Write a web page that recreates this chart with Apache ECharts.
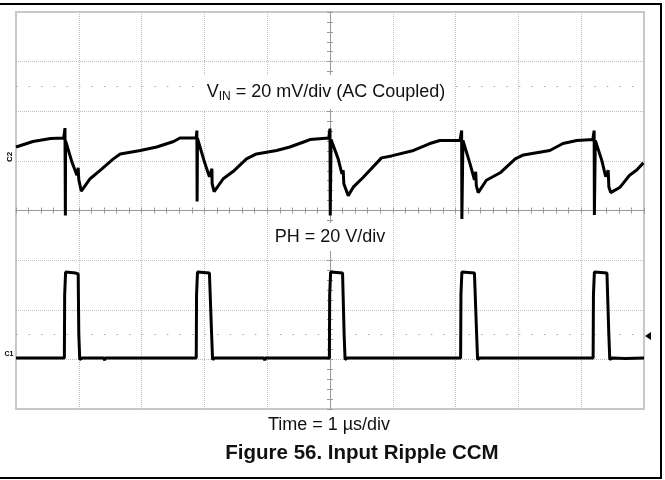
<!DOCTYPE html>
<html>
<head>
<meta charset="utf-8">
<script src="https://cdn.jsdelivr.net/npm/echarts@6/dist/echarts.min.js"></script>
<style>
html,body{margin:0;padding:0;background:#fff;}
#chart{width:665px;height:480px;}
</style>
</head>
<body>
<div id="chart"></div>
<script>
// Time in µs relative to trigger (center), vertical in divisions
var timeRange = [-5, 5];
var divRange = [-4, 4];

// Channel 2: VIN ripple (20 mV/div, AC coupled) - [time µs, divisions]
var vinRipple = [
  [-5.00,1.28],[-4.73,1.39],[-4.45,1.45],[-4.24,1.46],[-4.22,1.66],[-4.214,-0.10],[-4.21,1.40],[-4.19,1.41],
  [-4.11,0.98],[-4.03,0.71],[-4.01,0.86],[-4.00,0.62],[-3.96,0.39],[-3.82,0.64],[-3.66,0.81],[-3.45,1.04],
  [-3.34,1.14],[-3.02,1.21],[-2.76,1.28],[-2.49,1.39],[-2.39,1.46],[-2.13,1.46],
  [-2.12,1.61],[-2.116,0.18],[-2.11,1.45],[-1.99,0.94],[-1.92,0.68],[-1.88,0.84],[-1.877,0.54],[-1.845,0.38],
  [-1.70,0.64],[-1.54,0.79],[-1.33,1.04],[-1.17,1.14],[-0.85,1.21],[-0.64,1.28],[-0.42,1.38],[-0.32,1.43],[-0.02,1.46],
  [0.00,1.65],[0.004,-0.10],[0.017,1.43],[0.13,1.04],[0.19,0.74],[0.21,0.81],[0.22,0.54],[0.29,0.30],[0.37,0.47],
  [0.53,0.67],[0.82,1.06],[0.98,1.10],[1.33,1.21],[1.59,1.35],[1.75,1.41],[2.07,1.41],
  [2.096,1.61],[2.10,-0.17],[2.117,1.41],[2.23,0.94],[2.30,0.62],[2.32,0.78],[2.33,0.50],[2.36,0.36],[2.49,0.61],
  [2.71,0.76],[2.95,1.04],[3.08,1.12],[3.50,1.21],[3.71,1.35],[3.93,1.41],[4.185,1.43],
  [4.206,1.61],[4.21,-0.09],[4.225,1.41],[4.33,1.00],[4.39,0.68],[4.43,0.81],[4.44,0.48],[4.47,0.36],[4.62,0.47],
  [4.77,0.71],[4.88,0.81],[4.99,0.96]
];

// Channel 1: PH switch node (20 V/div) - [time µs, divisions]
var phNode = [
  [-5.00,-2.97],[-4.60,-2.97],[-4.59,-3.01],[-4.58,-2.97],[-4.23,-2.97],[-4.225,-1.70],[-4.21,-1.24],[-4.18,-1.22],
  [-4.05,-1.26],[-4.01,-1.28],[-4.00,-2.50],[-3.985,-3.00],[-3.96,-3.03],[-3.94,-2.97],[-3.60,-2.97],[-3.59,-3.02],
  [-3.58,-2.97],[-2.13,-2.97],
  [-2.125,-1.70],[-2.11,-1.24],[-2.08,-1.22],[-1.92,-1.26],[-1.895,-1.28],[-1.885,-2.50],[-1.87,-3.00],[-1.85,-3.03],
  [-1.83,-2.97],[-1.05,-2.97],[-1.04,-3.02],[-1.03,-2.97],[-0.01,-2.97],
  [-0.005,-1.70],[0.01,-1.24],[0.04,-1.22],[0.20,-1.26],[0.215,-1.28],[0.225,-2.50],[0.24,-3.00],[0.26,-3.03],
  [0.28,-2.97],[2.08,-2.97],
  [2.085,-1.70],[2.10,-1.24],[2.13,-1.22],[2.30,-1.26],[2.32,-1.28],[2.335,-2.50],[2.35,-3.00],[2.37,-3.03],
  [2.39,-2.97],[4.19,-2.97],
  [4.195,-1.70],[4.21,-1.24],[4.24,-1.22],[4.41,-1.26],[4.425,-1.28],[4.44,-2.50],[4.455,-3.00],[4.48,-3.03],
  [4.50,-2.97],[4.70,-2.98],[5.00,-2.97]
];

// Dotted marker rows (divisions)
var markerRows = [2.5, -2.5];

var vinLabel = ['V', 'IN', ' = 20 mV/div (AC Coupled)'];
var phLabel = 'PH = 20 V/div';
var timeLabel = 'Time = 1 µs/div';
var figTitle = 'Figure 56. Input Ripple CCM';

var chart = echarts.init(document.getElementById('chart'), null, {renderer: 'canvas'});
var FONT = '"Liberation Sans", Arial, Helvetica, sans-serif';
var gridLine = {show: true, showMinLine: false, showMaxLine: false, lineStyle: {color: '#bdbdbd', type: 'dotted', width: 1}};
function centerAxis(extra) {
  var base = {
    type: 'value', min: null, max: null, interval: 1,
    axisLine: {show: true, onZero: true, lineStyle: {color: '#9a9a9a', width: 1}},
    axisTick: {show: true, length: 3, lineStyle: {color: '#9a9a9a'}},
    minorTick: {show: true, splitNumber: 5, length: 3, lineStyle: {color: '#9a9a9a'}},
    axisLabel: {show: false},
    splitLine: {show: false}
  };
  for (var k in extra) base[k] = extra[k];
  return base;
}

chart.setOption({
  backgroundColor: '#ffffff',
  animation: false,
  grid: {left: 16, top: 12, width: 628, height: 397, show: true, borderColor: '#c8c8c8', borderWidth: 2, backgroundColor: 'transparent'},
  xAxis: [
    centerAxis({min: timeRange[0], max: timeRange[1], position: 'bottom', splitLine: gridLine}),
    centerAxis({min: timeRange[0], max: timeRange[1], position: 'top'})
  ],
  yAxis: [
    centerAxis({min: divRange[0], max: divRange[1], position: 'left', splitLine: gridLine}),
    centerAxis({min: divRange[0], max: divRange[1], position: 'right'})
  ],
  series: [
    {
      name: 'VIN', type: 'line', data: vinRipple, showSymbol: false, symbol: 'none',
      lineStyle: {color: '#000', width: 3}, z: 5,
      markLine: {
        silent: true, symbol: 'none', label: {show: false},
        lineStyle: {color: '#a8a8a8', type: [1.5, 11.07], width: 1},
        data: markerRows.map(function (v) { return {yAxis: v}; })
      }
    },
    {
      name: 'PH', type: 'line', data: phNode, showSymbol: false, symbol: 'none',
      lineStyle: {color: '#000', width: 3}, z: 5
    }
  ],
  graphic: [
    {type: 'rect', shape: {x: -2, y: 4, width: 663, height: 474}, style: {fill: 'none', stroke: '#000', lineWidth: 2}, silent: true},
    {type: 'text', x: 326, y: 92, z: 100, style: {
      text: '{v|' + vinLabel[0] + '}{s|' + vinLabel[1] + '}{n|' + vinLabel[2] + '}',
      align: 'center', verticalAlign: 'middle', textAlign: 'center', textVerticalAlign: 'middle',
      backgroundColor: '#ffffff', padding: [6, 6, 6, 6],
      rich: {
        v: {fontFamily: FONT, fontSize: 18, lineHeight: 22, fill: '#111', color: '#111'},
        s: {fontFamily: FONT, fontSize: 12, lineHeight: 11, verticalAlign: 'bottom', fill: '#111', color: '#111'},
        n: {fontFamily: FONT, fontSize: 18, lineHeight: 22, fill: '#111', color: '#111'}
      }
    }},
    {type: 'text', x: 330, y: 237, z: 100, style: {text: phLabel, font: '18px ' + FONT, fill: '#111', backgroundColor: '#ffffff', padding: [5, 5, 5, 5], align: 'center', verticalAlign: 'middle', textAlign: 'center', textVerticalAlign: 'middle'}},
    {type: 'text', x: 329, y: 425, style: {text: timeLabel, font: '18px ' + FONT, fill: '#111', align: 'center', verticalAlign: 'middle', textAlign: 'center', textVerticalAlign: 'middle'}},
    {type: 'text', x: 362, y: 453, style: {text: figTitle, font: 'bold 20.5px ' + FONT, fill: '#111', align: 'center', verticalAlign: 'middle', textAlign: 'center', textVerticalAlign: 'middle'}},
    {type: 'text', x: 10, y: 157, rotation: Math.PI / 2, style: {text: 'C2', font: 'bold 8px ' + FONT, fill: '#000', align: 'center', verticalAlign: 'middle', textAlign: 'center', textVerticalAlign: 'middle'}},
    {type: 'text', x: 9, y: 354, style: {text: 'C1', font: 'bold 7px ' + FONT, fill: '#000', align: 'center', verticalAlign: 'middle', textAlign: 'center', textVerticalAlign: 'middle'}},
    {type: 'polygon', shape: {points: [[645, 336], [651, 332], [651, 340]]}, style: {fill: '#000'}, silent: true}
  ]
});
</script>
</body>
</html>
